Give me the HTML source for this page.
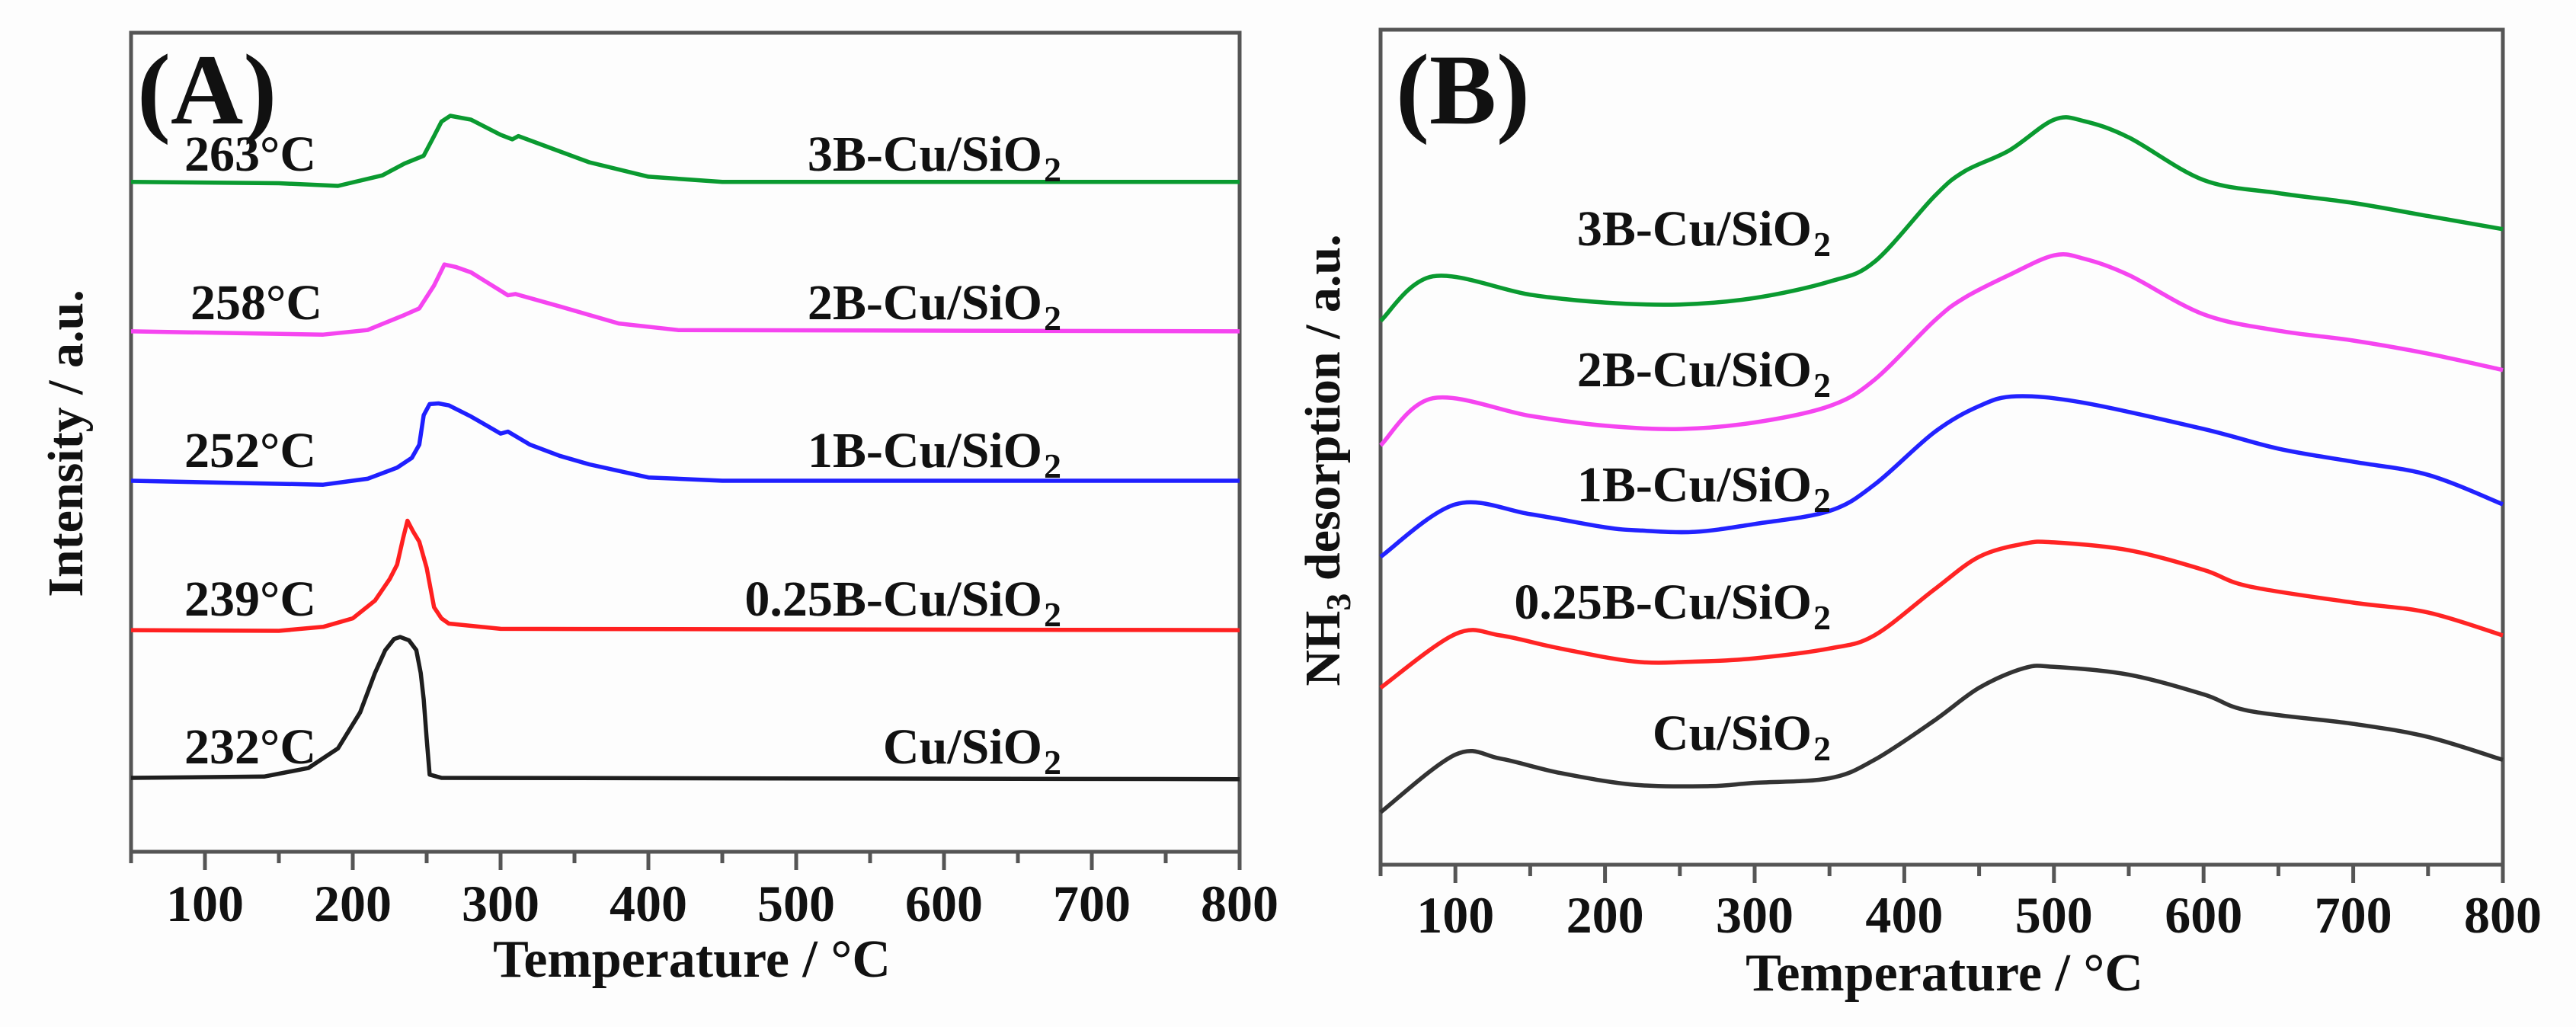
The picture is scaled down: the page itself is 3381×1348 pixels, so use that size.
<!DOCTYPE html>
<html><head><meta charset="utf-8"><style>
html,body{margin:0;padding:0;background:#fff;}
svg{display:block;}
text{font-family:"Liberation Serif",serif;font-weight:bold;fill:#111;}
</style></head>
<body>
<svg id="fig" width="3381" height="1348" viewBox="0 0 3381 1348" xmlns="http://www.w3.org/2000/svg">
<rect x="0" y="0" width="3381" height="1348" fill="#fdfdfd"/>
<g id="panelA"></g>
<g id="panelB"></g>
</svg>
<script>
// ---- Panel A data (H2-TPR) ----
const aNames = ["Cu/SiO2","0.25B-Cu/SiO2","1B-Cu/SiO2","2B-Cu/SiO2","3B-Cu/SiO2"];
const aPeakLabels = ["232°C","239°C","252°C","258°C","263°C"];
const aColors = ["#1e1e1e","#ff2020","#1f1fff","#f545f0","#0a9a30"];
const aOffsets = [0, 262, 527, 792, 1057];
const aT0 = [50,140,170,190,205,215,222,228,232,238,243,246,248,250,252,260,800];
const aV0 = [0,2,15,45,100,160,195,212,215,210,195,160,120,60,5,0,-2];
const aT1 = [50,150,180,200,215,225,230,234,237,241,245,250,255,260,265,300,800];
const aV1 = [0,-1,5,18,45,78,100,140,167,150,135,95,35,18,10,2,0];
const aT2 = [50,180,210,230,240,245,248,252,258,265,280,290,300,305,320,340,360,400,450,800];
const aV2 = [0,-6,3,20,35,55,100,117,118,115,98,85,72,75,55,38,25,5,0,0];
const aT3 = [50,180,210,235,245,255,262,270,280,300,305,310,340,380,420,800];
const aV3 = [0,-5,2,25,35,70,102,98,90,62,55,57,38,12,2,0];
const aT4 = [50,150,190,220,235,248,255,260,266,280,300,308,312,330,360,400,450,800];
const aV4 = [0,-2,-6,10,28,40,70,92,101,95,72,65,70,55,30,8,0,0];
const xTicks = [100,200,300,400,500,600,700,800];

// ---- Panel B data (NH3-TPD) ----
const bNames = ["Cu/SiO2","0.25B-Cu/SiO2","1B-Cu/SiO2","2B-Cu/SiO2","3B-Cu/SiO2"];
const bColors = ["#333333","#ff2424","#2222ff","#f545f0","#0a9a30"];
const bT0 = [50,100,130,170,220,270,300,350,380,420,450,480,500,550,600,630,700,750,800];
const bV0 = [8,16.8,16.2,14,12.2,12,12.5,13.2,16,22,27,30,30.2,29,26,23.5,21.5,19.5,16];
const bT1 = [50,100,130,170,220,260,300,350,380,420,450,480,500,550,600,630,700,750,800];
const bV1 = [27,35.2,35,33,31,31,31.5,33,35,42,47,49,49.2,48,45,42.5,40,38.5,35];
const bT2 = [50,100,150,200,225,260,300,350,380,420,450,475,520,600,650,700,750,800];
const bV2 = [47,55,53.5,51.5,51,50.8,52,54,58,66,70,71.5,70.5,66.5,63.5,61.5,59.5,55];
const bT3 = [50,85,150,200,250,300,350,380,420,440,470,500,520,550,600,650,700,750,800];
const bV3 = [64,71.2,68.5,67,66.5,67.5,70,74,83,86.5,90,93,92.5,90,84,81.5,80,78,75.5];
const bT4 = [50,85,150,200,250,300,350,380,420,440,470,500,520,550,600,650,700,750,800];
const bV4 = [83,89.8,87,85.8,85.5,86.5,89,92,102,105.8,109,113.7,113.5,111,104.5,102.5,101,99,97];

const NS = "http://www.w3.org/2000/svg";
function mk(parent, tag, attrs, txt){
  const e = document.createElementNS(NS, tag);
  for (const k in attrs) e.setAttribute(k, attrs[k]);
  if (txt !== undefined) e.textContent = txt;
  parent.appendChild(e);
  return e;
}
function line(xs, ys){ return xs.map((x,i)=>(i?"L":"M")+x.toFixed(1)+","+ys[i].toFixed(1)).join(""); }
function smooth(xs, ys){
  let d = "M"+xs[0].toFixed(1)+","+ys[0].toFixed(1);
  for (let i = 0; i < xs.length-1; i++){
    const x0 = xs[Math.max(0,i-1)], y0 = ys[Math.max(0,i-1)];
    const x1 = xs[i], y1 = ys[i], x2 = xs[i+1], y2 = ys[i+1];
    const x3 = xs[Math.min(xs.length-1,i+2)], y3 = ys[Math.min(xs.length-1,i+2)];
    const c1x = x1 + (x2-x0)/6, c1y = y1 + (y2-y0)/6;
    const c2x = x2 - (x3-x1)/6, c2y = y2 - (y3-y1)/6;
    d += "C"+c1x.toFixed(1)+","+c1y.toFixed(1)+" "+c2x.toFixed(1)+","+c2y.toFixed(1)+" "+x2.toFixed(1)+","+y2.toFixed(1);
  }
  return d;
}

function axes(g, L, R, T, B, xScale, tickY, titleY, titleX, prefix){
  const frame = mk(g, "rect", {x:L, y:T, width:R-L, height:B-T, fill:"none", stroke:"#555", "stroke-width":5});
  
  
  for (let v = 50; v <= 800; v += 50){
    const x = xScale(v);
    const major = v % 100 === 0;
    const t = mk(g, "line", {x1:x, y1:B, x2:x, y2:B + (major ? 24 : 15), stroke:"#555", "stroke-width":5});
    
    
  }
  xTicks.forEach(v => {
    const tl = mk(g, "text", {x:xScale(v), y:tickY, "font-size":68, "text-anchor":"middle"}, String(v));
    
    
  });
  const xt = mk(g, "text", {x:titleX, y:titleY, "font-size":70, "text-anchor":"middle"}, "Temperature / °C");
  
  
}

// Panel A
(function(){
  const g = document.getElementById("panelA");
  const L = 172, R = 1627, T = 43, B = 1118;
  const xs = v => L + (v - 50) * (R - L) / 750;
  const base = 1021, k = 0.86;
  axes(g, L, R, T, B, xs, 1209, 1282, 908, "panel-a");
  const Ts = [aT0,aT1,aT2,aT3,aT4], Vs = [aV0,aV1,aV2,aV3,aV4];
  const labelY = [1002, 808, 613, 419, 224];
  const peakX = [242, 242, 242, 250, 242];
  for (let i = 0; i < 5; i++){
    const p = mk(g, "path", {d: line(Ts[i].map(xs), Vs[i].map(v => base - aOffsets[i]*0.74 - v*k)), fill:"none", stroke:aColors[i], "stroke-width":5.5, "stroke-linejoin":"round"});
    
    
    const pl = mk(g, "text", {x:peakX[i], y:labelY[i], "font-size":66}, aPeakLabels[i]);
    
    
    const nm = aNames[i].replace("SiO2","SiO");
    const sl = mk(g, "text", {x:1368, y:labelY[i], "font-size":66, "text-anchor":"end"}, nm);
    
    
    const sub = mk(g, "text", {x:1370, y:labelY[i] + 14, "font-size":46}, "2");
    
    
  }
  const tA = mk(g, "text", {x:180, y:162, "font-size":132}, "(A)");
  
  
  const yl = mk(g, "text", {x:0, y:0, "font-size":66, "text-anchor":"middle", transform:"translate(108,582) rotate(-90)"}, "Intensity / a.u.");
  
  
})();

// Panel B
(function(){
  const g = document.getElementById("panelB");
  const L = 1812, R = 3285, T = 39, B = 1135;
  const xs = v => L + (v - 50) * (R - L) / 750;
  const ys = v => 1135 - v * 8.6;
  axes(g, L, R, T, B, xs, 1224, 1300, 2552, "panel-b");
  const Ts = [bT0,bT1,bT2,bT3,bT4], Vs = [bV0,bV1,bV2,bV3,bV4];
  const labelY = [984, 812, 658, 507, 322];
  for (let i = 0; i < 5; i++){
    const p = mk(g, "path", {d: smooth(Ts[i].map(xs), Vs[i].map(ys)), fill:"none", stroke:bColors[i], "stroke-width":5.5, "stroke-linejoin":"round"});
    
    
    const nm = bNames[i].replace("SiO2","SiO");
    const sl = mk(g, "text", {x:2378, y:labelY[i], "font-size":66, "text-anchor":"end"}, nm);
    
    
    const sub = mk(g, "text", {x:2380, y:labelY[i] + 14, "font-size":46}, "2");
    
    
  }
  const tB = mk(g, "text", {x:1832, y:162, "font-size":132}, "(B)");
  
  
  const yl = mk(g, "text", {x:0, y:0, "font-size":66, "text-anchor":"middle", transform:"translate(1758,604) rotate(-90)"});
  
  
  mk(yl, "tspan", {}, "NH");
  mk(yl, "tspan", {"font-size":46, dy:14}, "3");
  mk(yl, "tspan", {dy:-14}, " desorption / a.u.");
})();
</script>
</body></html>
